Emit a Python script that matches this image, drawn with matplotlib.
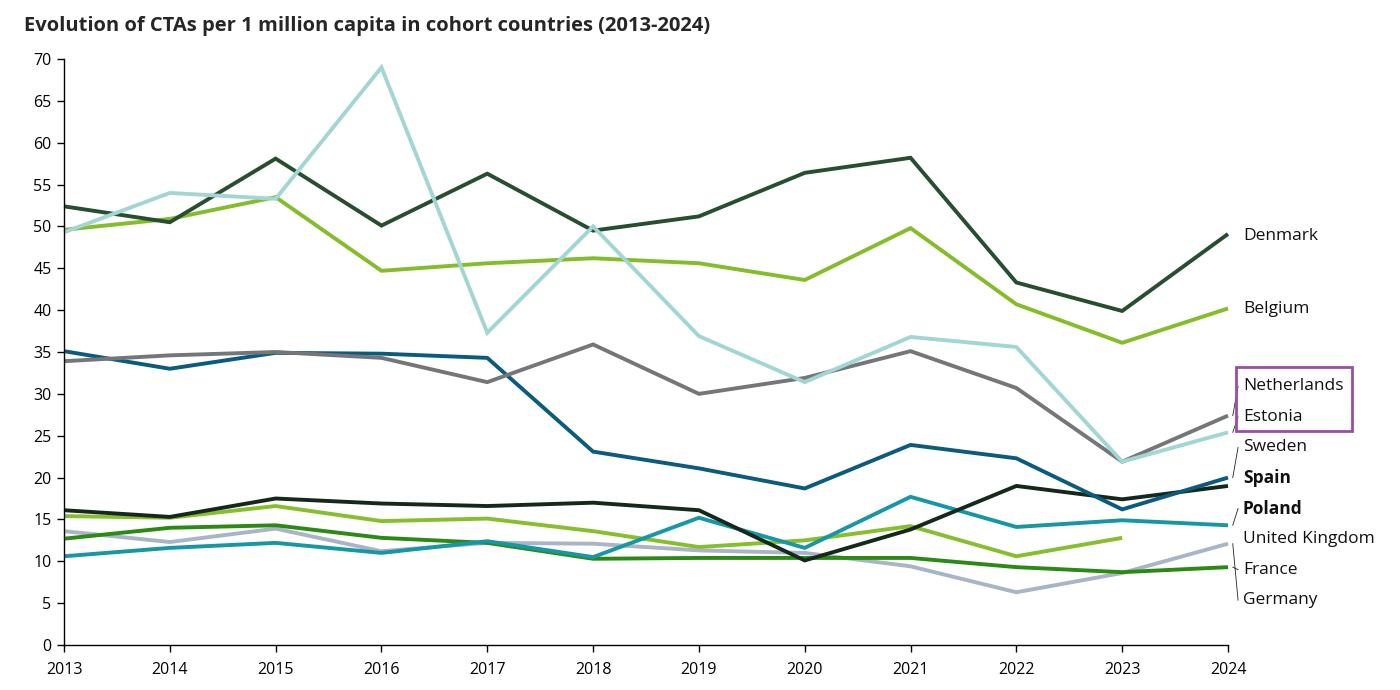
import matplotlib
matplotlib.use('Agg')
import matplotlib.pyplot as plt
from matplotlib.patches import Rectangle

plt.rcParams['font.family'] = ['Open Sans', 'DejaVu Sans']

# ===== data =====
years = list(range(2013, 2025))

denmark     = [52.4, 50.5, 58.1, 50.1, 56.3, 49.5, 51.2, 56.4, 58.2, 43.3, 39.9, 49.1]
belgium     = [49.6, 50.9, 53.5, 44.7, 45.6, 46.2, 45.6, 43.6, 49.8, 40.7, 36.1, 40.2]
netherlands = [33.9, 34.6, 35.0, 34.3, 31.4, 35.9, 30.0, 31.9, 35.1, 30.7, 21.9, 27.4]
estonia     = [49.3, 54.0, 53.3, 69.0, 37.3, 50.0, 36.9, 31.4, 36.8, 35.6, 21.9, 25.4]
sweden      = [35.1, 33.0, 34.9, 34.8, 34.3, 23.1, 21.1, 18.7, 23.9, 22.3, 16.2, 20.0]
spain       = [16.1, 15.3, 17.5, 16.9, 16.6, 17.0, 16.1, 10.1, 13.8, 19.0, 17.4, 19.0]
poland      = [10.6, 11.6, 12.2, 11.0, 12.4, 10.5, 15.2, 11.6, 17.7, 14.1, 14.9, 14.3]
uk          = [15.4, 15.2, 16.6, 14.8, 15.1, 13.6, 11.7, 12.5, 14.2, 10.6, 12.8, None]
france      = [12.7, 14.0, 14.3, 12.8, 12.2, 10.3, 10.4, 10.4, 10.4, 9.3, 8.7, 9.3]
germany     = [13.6, 12.3, 13.9, 11.2, 12.2, 12.1, 11.3, 11.0, 9.4, 6.3, 8.6, 12.1]

# drawing order (first = bottom)
series = [
    ('Germany', germany, '#AAB4C7', False),
    ('France', france, '#2B8A14', False),
    ('United Kingdom', uk, '#87BE2C', False),
    ('Poland', poland, '#1597A6', True),
    ('Spain', spain, '#14291B', True),
    ('Sweden', sweden, '#0B5B7F', False),
    ('Netherlands', netherlands, '#757679', False),
    ('Belgium', belgium, '#84BD2A', False),
    ('Denmark', denmark, '#264E2F', False),
    ('Estonia', estonia, '#A2D6D2', False),
]

# label order from top to bottom on the right
label_order = ['Denmark', 'Belgium', 'Netherlands', 'Estonia', 'Sweden',
               'Spain', 'Poland', 'United Kingdom', 'France', 'Germany']
leaders = ['Netherlands', 'Estonia', 'Sweden', 'Poland', 'France', 'Germany']

fig = plt.figure(figsize=(14, 6.9), dpi=100)
ax = fig.add_axes([64/1400, 45/690, 1164/1400, 586/690])

info = {}
for name, vals, col, bold in series:
    xs = [y for y, v in zip(years, vals) if v is not None]
    ys = [v for v in vals if v is not None]
    ax.plot(xs, ys, color=col, lw=2.8, solid_joinstyle='miter',
            solid_capstyle='butt', clip_on=False)
    info[name] = (ys[-1], bold)

ax.set_xlim(2013, 2024)
ax.set_ylim(0, 70)
ax.set_xticks(years)
ax.set_yticks(range(0, 71, 5))
for s in ['top', 'right']:
    ax.spines[s].set_visible(False)
for s in ['left', 'bottom']:
    ax.spines[s].set_linewidth(1.0)
    ax.spines[s].set_color('black')
ax.tick_params(axis='both', direction='out', length=5, width=1.0,
               labelsize=11.5, colors='black', pad=4)
ax.tick_params(axis='x', pad=7)

# ===== right-hand labels =====
label_y = {'Denmark': 48.9, 'Belgium': 40.1}
step = 3.65
for i, name in enumerate(label_order[2:]):
    label_y[name] = 30.9 - i * step

for name in label_order:
    end, bold = info[name]
    ax.text(2024.14, label_y[name], name, fontsize=12.5, va='center',
            ha='left', fontweight='bold' if bold else 'normal',
            color='#111111', clip_on=False)
    if name in leaders:
        ax.plot([2024.045, 2024.095], [end, label_y[name]], color='#222222',
                lw=0.6, clip_on=False)

# purple highlight around Netherlands/Estonia
fig.patches.append(Rectangle((1236/1400, 1 - 431/690), 116/1400, 64/690,
                             transform=fig.transFigure, fill=False,
                             edgecolor='#9B4DA6', lw=2.0))

fig.text(24/1400, 1 - 26/690,
         'Evolution of CTAs per 1 million capita in cohort countries (2013-2024)',
         fontsize=14.5, fontweight='bold', color='#262626', va='center', ha='left')

fig.savefig('out.png', dpi=100)
